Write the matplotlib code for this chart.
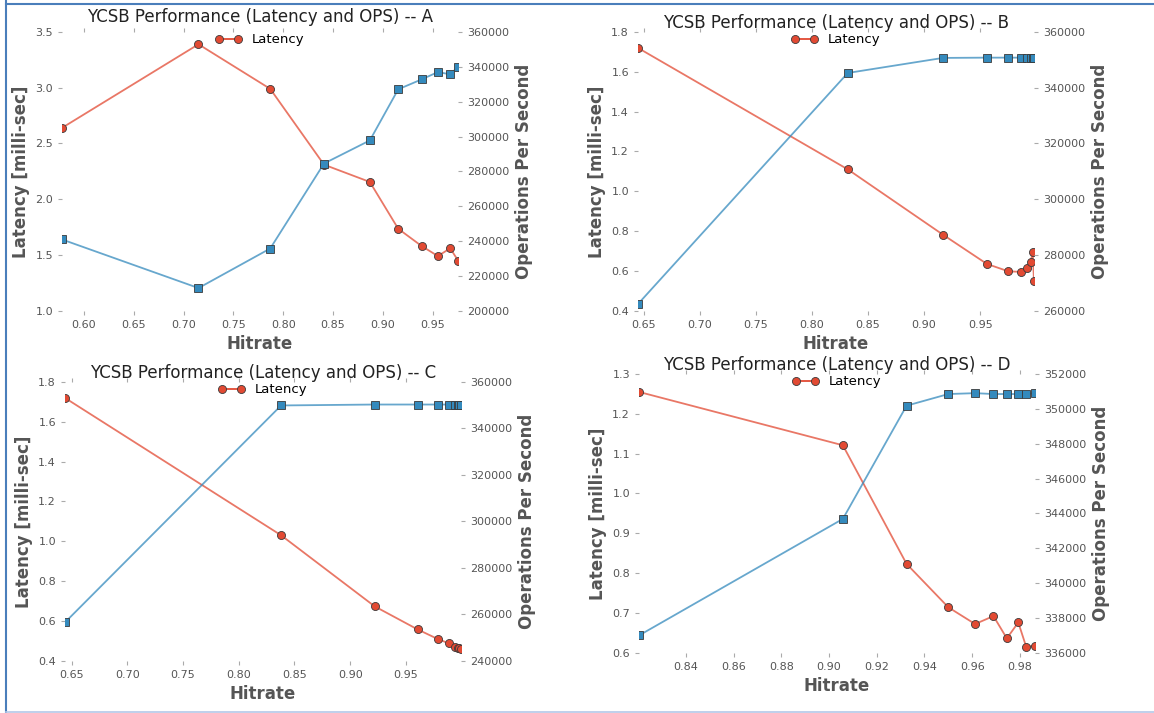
import matplotlib
matplotlib.use('Agg')
import matplotlib.pyplot as plt
from matplotlib.ticker import MultipleLocator, ScalarFormatter
from matplotlib.lines import Line2D

# hitrate / latency (ms) / ops per second, one set per workload
hit_a = [0.578, 0.715, 0.787, 0.841, 0.887, 0.9155, 0.939, 0.9553, 0.9677, 0.9755]
lat_a = [2.64, 3.39, 2.99, 2.31, 2.155, 1.735, 1.58, 1.49, 1.56, 1.45]
ops_a = [240900, 213000, 235700, 284500, 297750, 327100, 332800, 337000, 335700, 340000]

hit_b = [0.645, 0.832, 0.9168, 0.956, 0.975, 0.986, 0.9915, 0.995, 0.9968, 0.998]
lat_b = [1.72, 1.11, 0.782, 0.635, 0.598, 0.595, 0.613, 0.643, 0.695, 0.548]
ops_b = [262400, 345300, 350700, 350800, 350800, 350800, 350800, 350800, 350800, 350800]

hit_c = [0.644, 0.838, 0.922, 0.9606, 0.979, 0.9887, 0.9943, 0.9968, 0.998, 0.9995]
lat_c = [1.72, 1.03, 0.673, 0.557, 0.508, 0.487, 0.470, 0.465, 0.462, 0.460]
ops_c = [256500, 349900, 350300, 350300, 350300, 350300, 350300, 350300, 350300, 350300]

hit_d = [0.8204, 0.9058, 0.9325, 0.950, 0.9612, 0.9689, 0.9745, 0.9793, 0.9826, 0.9863]
lat_d = [1.255, 1.121, 0.823, 0.714, 0.672, 0.692, 0.636, 0.676, 0.615, 0.618]
ops_d = [336990, 343680, 350180, 350850, 350900, 350850, 350850, 350850, 350850, 350900]

RED = '#E24A33'
BLUE = '#348ABD'
TXT = '#555555'

W, H = 1154, 713
fig = plt.figure(figsize=(W / 100, H / 100), dpi=100)


def box(l, t, r, b):
    return [l / W, 1 - b / H, (r - l) / W, (b - t) / H]


def panel(rect, name, x, lat, ops, ylat, lat_step, yops, ops_step, x_step, tpad=2):
    ax = fig.add_axes(rect)
    ax.plot(x, lat, '-', color=RED, alpha=0.75, lw=1.3)
    ax.plot(x, lat, 'o', color=RED, mec='#3a3a3a', mew=0.6, ms=5.8)
    ax.set_xlim(x[0], x[-1])
    ax.set_ylim(*ylat)
    ax.xaxis.set_major_locator(MultipleLocator(x_step))
    ax.yaxis.set_major_locator(MultipleLocator(lat_step))
    ax.set_xlabel('Hitrate', fontsize=12, fontweight='bold', color=TXT)
    ax.set_ylabel('Latency [milli-sec]', fontsize=12, fontweight='bold', color=TXT)
    ax.set_title('YCSB Performance (Latency and OPS) -- ' + name, fontsize=12,
                 color='#222222', pad=tpad)
    ax.tick_params(direction='out', length=3, width=0.8, color='#aaaaaa',
                   labelcolor=TXT, labelsize=8, top=True, right=False)

    ax2 = ax.twinx()
    ax2.plot(x, ops, '-', color=BLUE, alpha=0.75, lw=1.3)
    ax2.plot(x, ops, 's', color=BLUE, mec='#3a3a3a', mew=0.6, ms=5.8)
    ax2.set_ylim(*yops)
    ax2.yaxis.set_major_locator(MultipleLocator(ops_step))
    fmt = ScalarFormatter(useOffset=False)
    fmt.set_scientific(False)
    ax2.yaxis.set_major_formatter(fmt)
    ax2.set_ylabel('Operations Per Second', fontsize=12, fontweight='bold', color=TXT)
    ax2.tick_params(direction='out', length=3, width=0.8, color='#aaaaaa',
                    labelcolor=TXT, labelsize=8)

    for a in (ax, ax2):
        for s in a.spines.values():
            s.set_visible(False)

    h = Line2D([], [], color=RED, marker='o', mec='#3a3a3a', mew=0.6, ms=5.8, lw=1.3)
    ax.legend([h], ['Latency'], loc='upper center', numpoints=2, frameon=False,
              fontsize=9.5, borderaxespad=0.0, borderpad=0.1)
    return ax, ax2


panel(box(62, 32, 458, 310.7), 'A', hit_a, lat_a, ops_a, (1.0, 3.5), 0.5,
      (200000, 360000), 20000, 0.05, tpad=7)
panel(box(638, 32, 1034, 310.7), 'B', hit_b, lat_b, ops_b, (0.4, 1.8), 0.2,
      (260000, 360000), 20000, 0.05)
panel(box(65, 382, 461, 660.7), 'C', hit_c, lat_c, ops_c, (0.4, 1.8), 0.2,
      (240000, 360000), 20000, 0.05)
panel(box(639, 374, 1035, 652.7), 'D', hit_d, lat_d, ops_d, (0.6, 1.3), 0.1,
      (336000, 352000), 2000, 0.02)

# screenshot frame lines
fig.add_artist(Line2D([6 / W, 6 / W], [0, 1], color='#4a7ebb', lw=1.5))
fig.add_artist(Line2D([6 / W, 1], [1 - 4 / H, 1 - 4 / H], color='#4a7ebb', lw=1.5))
fig.add_artist(Line2D([6 / W, 1], [1 - 712 / H, 1 - 712 / H], color='#b4c7e7', lw=1.2))

fig.savefig('out.png', dpi=100)
